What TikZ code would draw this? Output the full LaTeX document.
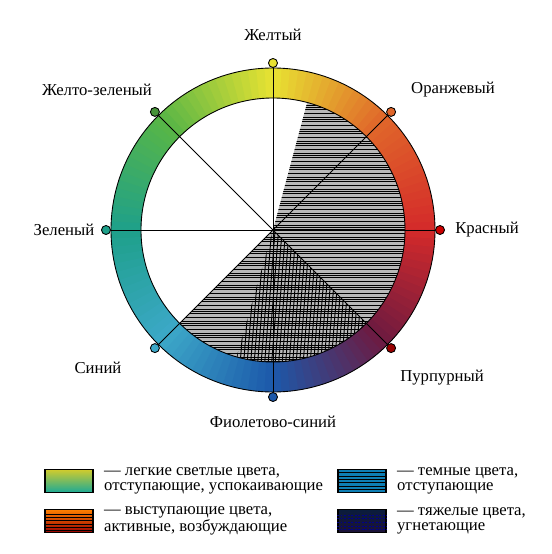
\documentclass[tikz,border=0pt]{standalone}
\usepackage{fontspec}
\setmainfont{Liberation Serif}
\usetikzlibrary{calc}
\definecolor{hueRed}{HTML}{D42A2A}
\definecolor{hueOrange}{HTML}{E0662A}
\definecolor{hueYellow}{HTML}{E8E232}
\definecolor{hueGreen}{HTML}{58B646}
\definecolor{hueTeal}{HTML}{1EA08A}
\definecolor{hueCyan}{HTML}{3CA8C8}
\definecolor{hueBlue}{HTML}{1C58AA}
\definecolor{huePurple}{HTML}{6E1A40}
\definecolor{hatchGray}{HTML}{B8B8B8}
\definecolor{keyBlue}{HTML}{0E7EB4}
\definecolor{keyNavy}{HTML}{0A1C3C}
\definecolor{keyPlum}{HTML}{1C1238}

\begin{document}
\begin{tikzpicture}[
      every node/.style={font=\fontsize{9.5}{8.6}\selectfont},
      lbl/.style={inner sep=1pt},
      dot/.style={circle, draw, line width=0.5pt, minimum size=0.18cm, inner sep=0pt},
      spoke/.style={line width=0.5pt},
      rim/.style={line width=0.5pt},
      legbox/.style={draw, line width=0.9pt, minimum width=0.96cm,
                     minimum height=0.46cm, inner sep=0pt},
      legtxt/.style={anchor=west, align=left, inner sep=0pt},
    ]
      \useasboundingbox (-5.46,-6.48) rectangle (5.58,4.6);
      \coordinate (c) at (0,0);

      % advancing colours: horizontal hatching
      \begin{scope}
        \clip (c) -- (-135:2.64) arc[start angle=-135, end angle=75, radius=2.64] -- cycle;
        \fill[hatchGray] (-2.7,-2.7) rectangle (2.7,2.7);
        \foreach \y in {-2.62,-2.54,...,2.64}
          \draw[line width=0.2pt] (-2.7,\y) -- (2.7,\y);
        \foreach \y in {-2.58,-2.34,...,2.64}
          \draw[line width=0.45pt] (-2.7,\y) -- (2.7,\y);
      \end{scope}

      % heavy colours: extra slanted lines
      \begin{scope}
        \clip (c) -- (-106:2.64) arc[start angle=-106, end angle=-45, radius=2.64] -- cycle;
        \foreach \x in {-1.5,-1.43,...,2.4}
          \draw[line width=0.55pt] (\x,-2.7) -- (\x+0.22,0.1);
      \end{scope}

      % colour ring
      \foreach \a/\ca/\cb in {0/hueRed/hueOrange, 45/hueOrange/hueYellow,
                              90/hueYellow/hueGreen, 135/hueGreen/hueTeal,
                              180/hueTeal/hueCyan, 225/hueCyan/hueBlue,
                              270/hueBlue/huePurple, 315/huePurple/hueRed}{
        \foreach \i in {0,...,14}{
          \pgfmathsetmacro\s{\a+3*\i}
          \pgfmathsetmacro\e{\s+3.3}
          \pgfmathsetmacro\p{100*(\i+0.5)/15}
          \fill[\cb!\p!\ca] (\s:3.24) arc[start angle=\s, end angle=\e, radius=3.24]
            -- (\e:2.64) arc[start angle=\e, end angle=\s, radius=2.64] -- cycle;
        }
      }
      \draw[rim] (c) circle[radius=3.24];
      \draw[rim] (c) circle[radius=2.64];

      % marker dots
      \node[dot, fill=hueYellow]      (dYellow) at (90:3.34)  {};
      \node[dot, fill=hueOrange]      (dOrange) at (45:3.34)  {};
      \node[dot, fill=red!80!black]   (dRed)    at (0:3.34)   {};
      \node[dot, fill=red!60!black]   (dPurple) at (-45:3.34) {};
      \node[dot, fill=hueBlue]        (dBlue)   at (-90:3.34) {};
      \node[dot, fill=hueCyan]        (dCyan)   at (-135:3.34){};
      \node[dot, fill=hueTeal]        (dTeal)   at (180:3.34) {};
      \node[dot, fill=hueGreen!80!black] (dGreen) at (135:3.34) {};
      \foreach \d in {dYellow,dOrange,dRed,dPurple,dBlue,dCyan,dTeal,dGreen}
        \draw[spoke] (c) -- (\d);

      % names round the wheel
      \node[lbl] (nYellow) at (0,3.9)       {Желтый};
      \node[lbl] (nOrange) at (3.6,2.8)     {Оранжевый};
      \node[lbl] (nRed)    at (4.28,0)      {Красный};
      \node[lbl] (nPurple) at (3.38,-2.96)  {Пурпурный};
      \node[lbl] (nBlue)   at (0,-3.84)     {Фиолетово-синий};
      \node[lbl] (nCyan)   at (-3.5,-2.76)  {Синий};
      \node[lbl] (nTeal)   at (-4.18,0)     {Зеленый};
      \node[lbl] (nGreen)  at (-3.52,2.8)   {Желто-зеленый};

      % legend
      \node[legbox, top color=hueYellow!90!black, bottom color=hueTeal!90!cyan] (kLight) at (-4.08,-5.02) {};
      \node[legbox, top color=orange, bottom color=red!60!black] (kWarm) at (-4.08,-5.82) {};
      \foreach \t in {0.12,0.25,...,0.9}
        \draw[line width=0.5pt] ($(kWarm.south west)!\t!(kWarm.north west)$) -- ($(kWarm.south east)!\t!(kWarm.north east)$);
      \node[legbox, fill=keyBlue] (kDark) at (1.78,-5.02) {};
      \foreach \t in {0.14,0.28,...,0.9}
        \draw[line width=0.6pt] ($(kDark.south west)!\t!(kDark.north west)$) -- ($(kDark.south east)!\t!(kDark.north east)$);
      \node[legbox, top color=keyNavy, bottom color=keyPlum] (kHeavy) at (1.78,-5.82) {};
      \foreach \t in {0.15,0.3,...,0.9}
        \draw[blue!55!black, line width=0.4pt, dash pattern=on 1pt off 1pt] ($(kHeavy.south west)!\t!(kHeavy.north west)$) -- ($(kHeavy.south east)!\t!(kHeavy.north east)$);

      \node[legtxt] (tLight) at ($(kLight.east)+(0.2,0)$) {— легкие светлые цвета,\\отступающие, успокаивающие};
      \node[legtxt] (tWarm)  at ($(kWarm.east)+(0.2,0)$)  {— выступающие цвета,\\активные, возбуждающие};
      \node[legtxt] (tDark)  at ($(kDark.east)+(0.2,0)$)  {— темные цвета,\\отступающие};
      \node[legtxt] (tHeavy) at ($(kHeavy.east)+(0.2,0)$) {— тяжелые цвета,\\угнетающие};
    \end{tikzpicture}
\end{document}
